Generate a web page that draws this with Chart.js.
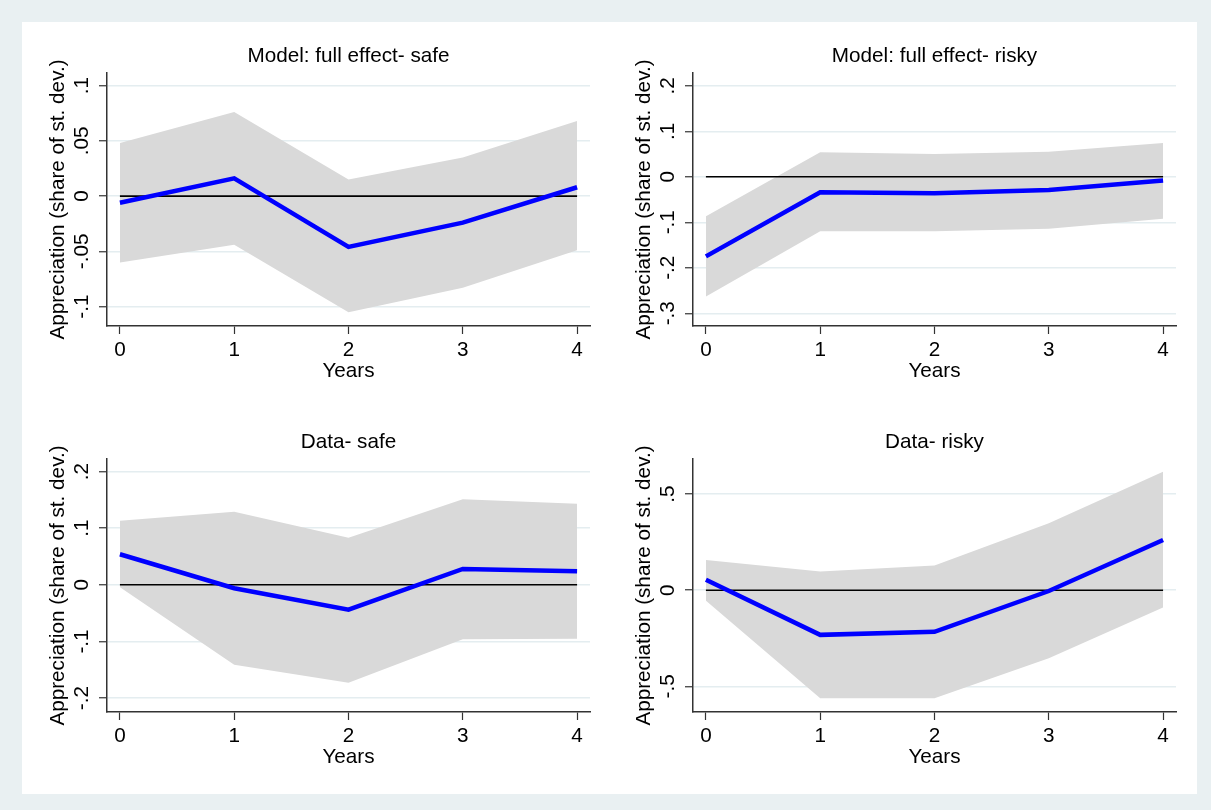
<!DOCTYPE html>
<html>
<head>
<meta charset="utf-8">
<script src="https://cdn.jsdelivr.net/npm/chart.js@4.4.1/dist/chart.umd.min.js"></script>
<style>
  html, body { margin: 0; padding: 0; background: #e9f0f2; }
  #wrap { position: relative; width: 1211px; height: 810px; background: #e9f0f2; overflow: hidden; }
  #inner { position: absolute; left: 22px; top: 22px; width: 1175px; height: 772px; background: #fff; }
  canvas.p { position: absolute; }
</style>
</head>
<body>
<div id="wrap">
  <div id="inner"></div>
  <canvas id="c1" class="p" width="587" height="386" style="left:22px;top:22px"></canvas>
  <canvas id="c2" class="p" width="587" height="386" style="left:608px;top:22px"></canvas>
  <canvas id="c3" class="p" width="587" height="386" style="left:22px;top:408px"></canvas>
  <canvas id="c4" class="p" width="587" height="386" style="left:608px;top:408px"></canvas>
</div>
<script>
// horizon (years after shock)
const years = [0, 1, 2, 3, 4];

// Model: full effect - safe
const modelSafeIrf   = [-0.006, 0.016, -0.046, -0.024, 0.008];
const modelSafeUpper = [0.048, 0.076, 0.015, 0.035, 0.068];
const modelSafeLower = [-0.060, -0.044, -0.105, -0.083, -0.049];

// Model: full effect - risky
const modelRiskyIrf   = [-0.175, -0.034, -0.036, -0.029, -0.008];
const modelRiskyUpper = [-0.087, 0.054, 0.050, 0.055, 0.074];
const modelRiskyLower = [-0.263, -0.120, -0.120, -0.114, -0.092];

// Data - safe
const dataSafeIrf   = [0.054, -0.006, -0.044, 0.028, 0.024];
const dataSafeUpper = [0.113, 0.129, 0.083, 0.151, 0.143];
const dataSafeLower = [-0.004, -0.141, -0.173, -0.096, -0.095];

// Data - risky
const dataRiskyIrf   = [0.054, -0.232, -0.216, -0.004, 0.261];
const dataRiskyUpper = [0.157, 0.097, 0.128, 0.348, 0.616];
const dataRiskyLower = [-0.054, -0.561, -0.561, -0.353, -0.090];

// y tick values and labels per panel
const modelSafeTicks  = [-0.1, -0.05, 0, 0.05, 0.1];
const modelSafeLabels = ['-.1', '-.05', '0', '.05', '.1'];
const modelRiskyTicks  = [-0.3, -0.2, -0.1, 0, 0.1, 0.2];
const modelRiskyLabels = ['-.3', '-.2', '-.1', '0', '.1', '.2'];
const dataSafeTicks  = [-0.2, -0.1, 0, 0.1, 0.2];
const dataSafeLabels = ['-.2', '-.1', '0', '.1', '.2'];
const dataRiskyTicks  = [-0.5, 0, 0.5];
const dataRiskyLabels = ['-.5', '0', '.5'];

const FAMILY = "'Liberation Sans', Arial, Helvetica, sans-serif";
const FS = 20.7;

// draws the y tick labels rotated, like Stata does
const yTickLabels = {
  id: 'yTickLabels',
  afterDraw(chart, args, opts) {
    const s = chart.scales.y;
    const ctx = chart.ctx;
    ctx.save();
    ctx.font = FS + 'px ' + FAMILY;
    ctx.fillStyle = '#000';
    ctx.textAlign = 'center';
    ctx.textBaseline = 'middle';
    opts.values.forEach((v, i) => {
      ctx.save();
      ctx.translate(s.right - 25, s.getPixelForValue(v));
      ctx.rotate(-Math.PI / 2);
      ctx.fillText(opts.labels[i], 0, 0);
      ctx.restore();
    });
    ctx.restore();
  }
};

function pts(ys) {
  return years.map((x, i) => ({ x: x, y: ys[i] }));
}

function makePanel(id, title, irf, upper, lower, yMin, yMax, yTicks, yLabels) {
  new Chart(document.getElementById(id), {
    type: 'line',
    data: {
      datasets: [
        { data: pts(irf), borderColor: '#0000ff', borderWidth: 4.5, pointRadius: 0, fill: false },
        { data: pts(years.map(() => 0)), borderColor: '#000', borderWidth: 1.6, pointRadius: 0, fill: false },
        { data: pts(upper), borderWidth: 0, pointRadius: 0, backgroundColor: '#d9d9d9', fill: 3 },
        { data: pts(lower), borderWidth: 0, pointRadius: 0, fill: false }
      ]
    },
    options: {
      responsive: false,
      animation: false,
      events: [],
      layout: { padding: { left: 0, right: 19, top: 0, bottom: 0 }, autoPadding: false },
      plugins: {
        legend: { display: false },
        tooltip: { enabled: false },
        title: {
          display: true, text: title, fullSize: false, color: '#000',
          font: { family: FAMILY, size: FS, weight: 'normal', lineHeight: 1.2 },
          padding: { top: 21.5, bottom: 4.7 }
        },
        yTickLabels: { values: yTicks, labels: yLabels }
      },
      scales: {
        x: {
          type: 'linear', min: -0.113, max: 4.113,
          afterBuildTicks: s => { s.ticks = years.map(v => ({ value: v })); },
          afterFit: s => { s.height = 82; },
          grid: { drawOnChartArea: false, drawTicks: true, tickLength: 8, tickColor: '#333', tickWidth: 1.2 },
          border: { display: true, color: '#333', width: 1.5 },
          ticks: { color: '#000', padding: 3.5, font: { family: FAMILY, size: FS }, maxRotation: 0, callback: v => String(v) },
          title: { display: true, text: 'Years', color: '#000', font: { family: FAMILY, size: FS, lineHeight: 1.2 }, padding: { top: 0, bottom: 24.5 } }
        },
        y: {
          type: 'linear', min: yMin, max: yMax,
          afterBuildTicks: s => { s.ticks = yTicks.map(v => ({ value: v })); },
          afterFit: s => { s.width = 85; },
          grid: { color: '#e4edf0', lineWidth: 1.5, drawTicks: true, tickLength: 8, tickColor: '#333', tickWidth: 1.2 },
          border: { display: true, color: '#333', width: 1.5 },
          ticks: { display: false },
          title: { display: true, text: 'Appreciation (share of st. dev.)', color: '#000', font: { family: FAMILY, size: FS, lineHeight: 1.2 }, padding: { top: 24, bottom: 0 } }
        }
      }
    },
    plugins: [yTickLabels]
  });
}

makePanel('c1', 'Model: full effect- safe', modelSafeIrf, modelSafeUpper, modelSafeLower, -0.1175, 0.1113, modelSafeTicks, modelSafeLabels);
makePanel('c2', 'Model: full effect- risky', modelRiskyIrf, modelRiskyUpper, modelRiskyLower, -0.328, 0.228, modelRiskyTicks, modelRiskyLabels);
makePanel('c3', 'Data- safe', dataSafeIrf, dataSafeUpper, dataSafeLower, -0.2245, 0.222, dataSafeTicks, dataSafeLabels);
makePanel('c4', 'Data- risky', dataRiskyIrf, dataRiskyUpper, dataRiskyLower, -0.633, 0.682, dataRiskyTicks, dataRiskyLabels);
</script>
</body>
</html>
